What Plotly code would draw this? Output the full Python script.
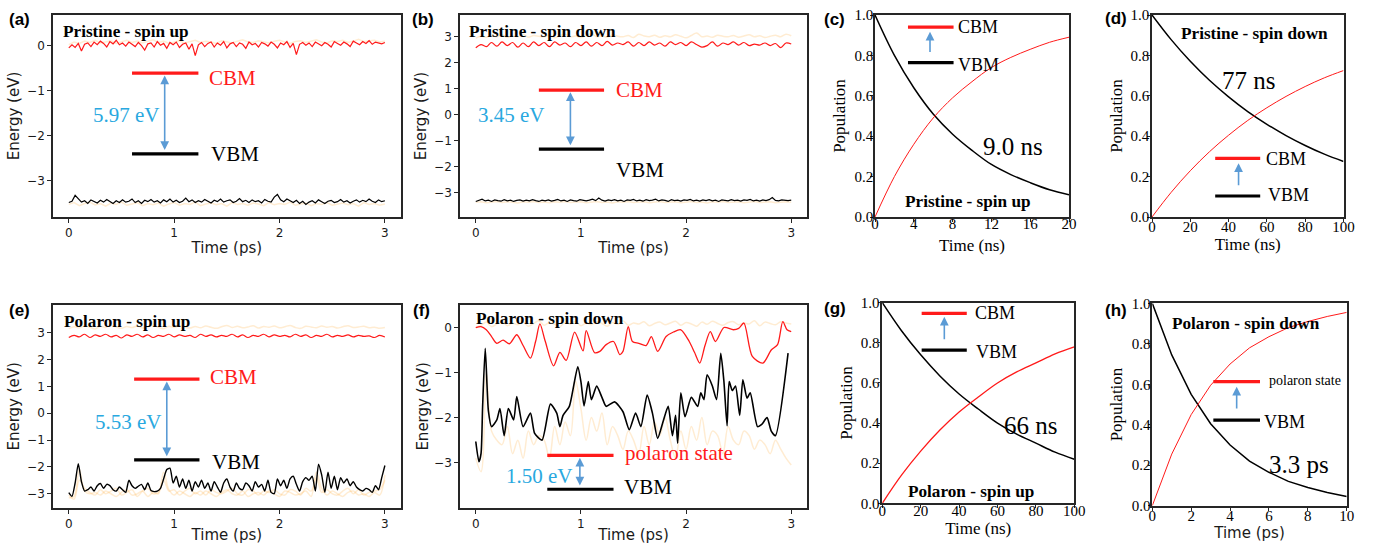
import numpy as np
import plotly.graph_objects as go

# ---------------- data ----------------
# (a) Pristine - spin up : energy trajectories (eV) vs time (ps)
a_red = [-0.05,0.02,-0.04,0.05,-0.12,0.03,0.06,-0.02,0.08,0.02,0.10,0.05,-0.03,0.09,0.04,0.12,0.02,0.06,-0.01,0.08,
         0.03,-0.02,0.07,0.00,-0.10,0.04,0.06,-0.03,0.09,0.01,0.05,-0.06,0.07,0.02,0.08,-0.04,0.03,0.06,-0.08,0.04,
         -0.22,0.02,0.07,-0.02,0.05,0.08,-0.03,0.06,0.01,0.09,-0.05,0.04,0.07,-0.02,0.06,0.03,-0.06,0.08,0.02,0.05,
         -0.03,0.07,0.04,-0.01,0.08,0.03,-0.05,0.06,0.02,0.09,-0.04,0.05,-0.20,0.03,0.07,0.01,0.06,-0.02,0.08,0.04,
         0.00,0.07,0.03,-0.03,0.09,0.05,0.01,0.08,0.04,-0.02,0.10,0.06,0.02,0.09,0.05,0.11,0.03,0.08,0.06,0.04,0.07]
a_black = [-3.48,-3.45,-3.32,-3.40,-3.47,-3.44,-3.50,-3.42,-3.46,-3.49,-3.43,-3.47,-3.41,-3.46,-3.50,-3.44,-3.48,-3.42,-3.47,-3.45,
           -3.40,-3.48,-3.44,-3.50,-3.43,-3.46,-3.41,-3.47,-3.44,-3.49,-3.42,-3.46,-3.40,-3.47,-3.43,-3.48,-3.45,-3.38,-3.46,-3.42,
           -3.48,-3.44,-3.47,-3.41,-3.45,-3.49,-3.43,-3.46,-3.40,-3.47,-3.44,-3.42,-3.48,-3.45,-3.39,-3.46,-3.43,-3.48,-3.42,-3.46,
           -3.44,-3.49,-3.41,-3.45,-3.47,-3.36,-3.30,-3.42,-3.46,-3.40,-3.44,-3.48,-3.43,-3.50,-3.45,-3.52,-3.47,-3.44,-3.49,-3.42,
           -3.46,-3.50,-3.45,-3.43,-3.48,-3.46,-3.41,-3.47,-3.44,-3.49,-3.45,-3.42,-3.47,-3.43,-3.46,-3.40,-3.45,-3.48,-3.42,-3.46,-3.44]
a_orange_top = [0.02,0.08,0.05,0.10,0.07,0.12,0.06,0.09,0.11,0.05,0.08,0.12,0.07,0.10,0.06,0.09,0.13,0.07,0.10,0.05,
                0.08,0.11,0.06,0.09,0.12,0.07,0.10,0.08,0.05,0.11,0.09,0.06,0.10,0.13,0.08,0.07,0.11,0.09,0.06,0.10,
                0.12,0.08,0.05,0.09,0.11,0.07,0.10,0.13,0.08,0.06,0.11,0.09,0.12,0.07,0.10,0.14,0.09,0.11,0.12,0.08,0.10]
a_orange_low = [-3.52,-3.48,-3.55,-3.50,-3.47,-3.53,-3.50,-3.56,-3.49,-3.52,-3.47,-3.54,-3.51,-3.48,-3.55,-3.50,-3.53,-3.49,-3.56,-3.51,
                -3.48,-3.54,-3.50,-3.52,-3.47,-3.55,-3.51,-3.49,-3.53,-3.50,-3.56,-3.48,-3.52,-3.50,-3.54,-3.49,-3.51,-3.55,-3.48,-3.53,
                -3.50,-3.52,-3.47,-3.54,-3.51,-3.49,-3.55,-3.50,-3.52,-3.48,-3.54,-3.51,-3.49,-3.53,-3.50,-3.56,-3.48,-3.52,-3.50,-3.54,-3.51]
a_levels = [-0.61, -2.40]          # CBM, VBM

# (b) Pristine - spin down
b_red = [2.58,2.70,2.62,2.78,2.64,2.80,2.66,2.78,2.60,2.76,2.62,2.80,2.66,2.78,2.62,2.80,2.68,2.76,2.62,2.78,
         2.66,2.80,2.64,2.78,2.66,2.82,2.68,2.76,2.70,2.80,2.64,2.78,2.66,2.80,2.68,2.76,2.64,2.80,2.70,2.78,
         2.66,2.80,2.70,2.60,2.66,2.80,2.64,2.76,2.70,2.80,2.68,2.78,2.66,2.72,2.68,2.76,2.66,2.74,2.58,2.76,2.72]
b_orange_top = [2.95,3.02,2.98,3.06,3.00,3.08,2.97,3.04,3.00,3.10,2.98,3.05,3.02,3.00,3.07,2.96,3.04,3.10,3.00,3.03,
                2.97,3.06,3.12,3.00,3.04,2.98,3.08,3.02,3.00,3.05,2.97,3.10,3.03,3.00,3.06,2.98,3.04,3.00,3.08,3.02,
                2.96,3.05,3.15,3.00,3.03,2.98,3.06,3.02,3.00,3.05,2.98,3.03,3.08,3.00,3.04,2.97,3.02,3.06,3.00,3.10,3.04]
b_black = [-3.35,-3.30,-3.26,-3.33,-3.30,-3.35,-3.29,-3.32,-3.34,-3.28,-3.33,-3.30,-3.35,-3.31,-3.29,-3.34,-3.30,-3.33,-3.28,-3.32,
           -3.35,-3.30,-3.33,-3.29,-3.34,-3.31,-3.27,-3.33,-3.30,-3.35,-3.29,-3.32,-3.34,-3.28,-3.31,-3.33,-3.30,-3.26,-3.32,-3.22,
           -3.30,-3.34,-3.29,-3.32,-3.28,-3.33,-3.30,-3.35,-3.29,-3.31,-3.27,-3.33,-3.30,-3.34,-3.28,-3.32,-3.30,-3.26,-3.33,-3.29,
           -3.31,-3.35,-3.28,-3.32,-3.30,-3.34,-3.29,-3.31,-3.27,-3.33,-3.30,-3.34,-3.29,-3.32,-3.28,-3.33,-3.30,-3.35,-3.29,-3.31,
           -3.33,-3.28,-3.32,-3.30,-3.34,-3.29,-3.31,-3.27,-3.33,-3.30,-3.34,-3.29,-3.32,-3.28,-3.20,-3.31,-3.33,-3.29,-3.30,-3.32,-3.30]
b_orange_low = [-3.38,-3.36,-3.40,-3.37,-3.35,-3.39,-3.36,-3.38,-3.41,-3.36,-3.38,-3.35,-3.39,-3.37,-3.40,-3.36,-3.38,-3.35,-3.39,-3.37,
                -3.36,-3.40,-3.38,-3.35,-3.39,-3.37,-3.41,-3.36,-3.38,-3.35,-3.39,-3.37,-3.36,-3.40,-3.38,-3.35,-3.39,-3.37,-3.36,-3.40,
                -3.38,-3.35,-3.39,-3.37,-3.41,-3.36,-3.38,-3.35,-3.39,-3.37,-3.36,-3.40,-3.38,-3.35,-3.39,-3.37,-3.36,-3.40,-3.38,-3.36,-3.38]
b_levels = [0.94, -1.33]

# (e) Polaron - spin up
e_red = [2.82,2.90,2.84,2.94,2.82,2.92,2.86,2.94,2.84,2.90,2.80,2.92,2.86,2.94,2.84,2.92,2.82,2.90,2.86,2.94,
         2.84,2.92,2.86,2.90,2.82,2.94,2.86,2.92,2.84,2.90,2.86,2.94,2.84,2.92,2.82,2.90,2.86,2.94,2.84,2.92,
         2.86,2.90,2.84,2.94,2.86,2.92,2.82,2.90,2.86,2.94,2.84,2.90,2.86,2.92,2.84,2.90,2.86,2.88,2.82,2.90,2.84]
e_orange_top = [3.15,3.22,3.18,3.26,3.20,3.14,3.24,3.19,3.27,3.21,3.16,3.23,3.19,3.25,3.17,3.22,3.28,3.20,3.15,3.24,
                3.19,3.26,3.21,3.17,3.23,3.18,3.25,3.20,3.16,3.22,3.27,3.19,3.24,3.18,3.21,3.26,3.17,3.23,3.20,3.25,
                3.18,3.22,3.27,3.19,3.16,3.24,3.21,3.18,3.25,3.20,3.23,3.17,3.22,3.26,3.19,3.21,3.24,3.18,3.20,3.16,3.19]
e_black = [-2.96,-3.10,-2.60,-1.88,-2.55,-2.90,-2.85,-2.75,-2.90,-2.70,-2.62,-2.80,-2.65,-2.70,-2.85,-2.90,-2.75,-2.85,-2.95,-2.50,
           -2.70,-2.80,-2.72,-2.65,-2.85,-2.60,-2.88,-2.92,-2.90,-2.80,-2.45,-2.10,-2.05,-2.60,-2.35,-2.75,-2.45,-2.80,-2.50,-2.90,
           -2.55,-2.75,-2.50,-2.80,-2.60,-2.90,-2.55,-2.75,-2.95,-2.60,-2.45,-2.75,-2.90,-2.60,-2.80,-2.85,-2.60,-2.70,-2.90,-2.55,
           -2.75,-2.65,-2.90,-2.50,-2.95,-3.00,-2.45,-2.70,-2.50,-2.80,-2.45,-2.35,-2.65,-2.90,-2.55,-2.40,-2.50,-2.35,-2.90,-1.90,
           -2.30,-2.95,-2.20,-2.80,-2.35,-2.85,-2.40,-2.60,-2.45,-2.70,-2.55,-2.75,-2.85,-2.90,-2.80,-2.85,-2.95,-2.70,-2.85,-2.40,-1.95]
e_orange_low1 = [-3.15,-3.10,-2.10,-2.90,-3.00,-2.95,-3.05,-2.90,-3.00,-3.10,-2.95,-2.85,-3.05,-3.00,-2.90,-3.10,-2.95,-3.00,-2.20,-2.85,
                 -3.05,-2.90,-3.00,-3.10,-2.95,-3.05,-2.90,-3.00,-3.10,-2.95,-2.85,-3.00,-3.05,-2.90,-3.10,-3.00,-2.95,-3.05,-2.90,-3.00,
                 -3.10,-2.90,-2.95,-3.05,-3.00,-2.90,-3.10,-2.20,-2.80,-3.05,-2.90,-3.00,-3.10,-2.95,-2.90,-3.05,-3.00,-3.10,-2.95,-3.05,-2.30]
e_orange_low2 = [-3.05,-3.20,-2.50,-2.80,-2.95,-3.05,-2.85,-3.00,-2.90,-2.80,-3.05,-2.95,-2.85,-3.10,-2.90,-2.80,-3.00,-2.95,-2.50,-2.90,
                 -2.85,-3.05,-2.90,-2.80,-3.00,-2.90,-3.05,-2.85,-2.95,-3.00,-2.90,-2.80,-3.00,-3.05,-2.85,-2.90,-3.05,-2.90,-2.95,-2.85,
                 -3.00,-3.05,-2.85,-2.90,-3.05,-2.80,-2.90,-2.40,-2.95,-2.85,-3.00,-3.05,-2.90,-2.80,-3.00,-2.85,-3.05,-2.95,-2.90,-2.85,-2.50]
e_levels = [1.27, -1.74]

# (f) Polaron - spin down
f_red_t = [0.00,0.05,0.10,0.15,0.20,0.26,0.32,0.39,0.45,0.52,0.57,0.61,0.66,0.74,0.80,0.86,0.94,1.02,1.05,1.13,
           1.18,1.24,1.31,1.37,1.40,1.45,1.49,1.55,1.62,1.67,1.73,1.81,1.88,1.95,2.03,2.08,2.13,2.18,2.23,2.28,
           2.36,2.45,2.50,2.55,2.63,2.73,2.81,2.87,2.92,2.96,3.00]
f_red_e = [0.00,0.02,-0.05,-0.20,-0.35,-0.28,-0.36,-0.16,-0.40,-0.68,-0.30,0.08,-0.30,-0.85,-0.55,-0.73,-0.10,-0.52,-0.07,-0.56,
           -0.53,-0.38,-0.31,-0.60,-0.53,0.02,-0.31,-0.35,-0.40,-0.20,-0.53,-0.20,-0.10,-0.05,-0.31,-0.55,-0.79,-0.40,-0.09,-0.31,
           0.00,-0.05,-0.02,0.10,-0.64,-0.79,-0.50,-0.38,0.13,-0.05,-0.09]
f_black_t = [0.00,0.03,0.05,0.065,0.09,0.12,0.15,0.20,0.23,0.27,0.31,0.36,0.39,0.45,0.52,0.56,0.63,0.71,0.77,0.80,
             0.83,0.89,0.97,1.00,1.03,1.07,1.10,1.15,1.20,1.24,1.32,1.40,1.46,1.52,1.57,1.63,1.68,1.73,1.78,1.83,
             1.87,1.90,1.92,1.95,1.99,2.05,2.11,2.14,2.17,2.20,2.25,2.29,2.33,2.36,2.39,2.41,2.44,2.47,2.51,2.54,
             2.58,2.61,2.68,2.72,2.77,2.81,2.85,2.97]
f_black_e = [-2.53,-2.98,-2.80,-1.76,-0.46,-1.85,-2.20,-2.05,-1.80,-2.40,-1.80,-2.05,-1.53,-2.20,-1.90,-2.35,-2.50,-1.70,-1.90,-2.20,
             -1.95,-1.75,-0.87,-1.20,-1.74,-1.20,-1.60,-1.30,-1.55,-1.75,-1.65,-1.87,-2.27,-1.90,-2.20,-1.50,-1.90,-2.46,-2.10,-1.75,
             -2.40,-1.95,-2.57,-1.45,-1.98,-1.55,-1.75,-1.45,-1.60,-1.05,-1.30,-1.60,-0.57,-1.20,-2.18,-1.20,-1.40,-1.30,-1.95,-1.16,
             -1.57,-1.45,-2.20,-2.15,-2.00,-2.30,-2.40,-0.57]
f_orange_low = [-2.90,-3.20,-1.00,-2.30,-2.50,-2.60,-2.20,-2.80,-2.50,-2.90,-2.30,-2.60,-2.40,-2.50,-2.90,-2.20,-2.60,-2.10,-2.40,-1.20,
                -1.80,-2.50,-2.00,-2.30,-1.90,-2.60,-2.20,-2.40,-2.70,-2.30,-2.50,-2.80,-2.20,-2.60,-2.10,-2.40,-2.00,-2.50,-2.90,-2.30,
                -2.70,-2.20,-2.50,-2.00,-2.60,-2.30,-2.40,-2.80,-2.20,-2.50,-2.60,-2.30,-2.40,-2.70,-2.50,-2.60,-2.80,-2.50,-2.70,-2.90,-3.05]
f_orange_top = [0.00,0.05,0.12,0.02,0.08,0.14,0.04,0.10,0.06,0.13,0.03,0.09,0.15,0.05,0.11,0.07,0.02,0.12,0.08,0.14,
                0.04,0.10,0.06,0.13,0.09,0.03,0.11,0.07,0.15,0.05,0.10,0.08,0.13,0.04,0.09,0.12,0.06,0.10,0.14,0.05,
                0.11,0.08,0.03,0.12,0.07,0.14,0.09,0.05,0.11,0.13,0.06,0.10,0.08,0.15,0.04,0.12,0.09,0.06,0.13,0.10,0.08]
f_levels = [-2.84, -3.59]          # polaron state, VBM

# (c),(d),(g),(h) populations
c_t = [0, 2, 4, 6, 8, 10, 12, 14, 16, 18, 20]
c_vbm = [1.0, 0.80, 0.64, 0.51, 0.41, 0.33, 0.26, 0.21, 0.17, 0.135, 0.11]
c_cbm = [0.0, 0.20, 0.36, 0.49, 0.59, 0.67, 0.74, 0.79, 0.83, 0.865, 0.89]
d_t = [0, 10, 20, 30, 40, 50, 60, 70, 80, 90, 100]
d_vbm = [1.0, 0.878, 0.771, 0.677, 0.595, 0.522, 0.459, 0.403, 0.354, 0.311, 0.275]
d_cbm = [0.0, 0.122, 0.229, 0.323, 0.405, 0.478, 0.541, 0.597, 0.646, 0.689, 0.725]
g_t = [0, 10, 20, 30, 40, 50, 60, 70, 80, 90, 100]
g_vbm = [1.0, 0.86, 0.74, 0.635, 0.545, 0.47, 0.40, 0.345, 0.30, 0.255, 0.22]
g_cbm = [0.0, 0.14, 0.26, 0.365, 0.455, 0.53, 0.60, 0.655, 0.70, 0.745, 0.78]
h_t = [0, 1, 2, 3, 4, 5, 6, 7, 8, 9, 10]
h_vbm = [1.0, 0.745, 0.55, 0.405, 0.30, 0.22, 0.165, 0.12, 0.09, 0.065, 0.045]
h_cbm = [0.0, 0.255, 0.45, 0.595, 0.70, 0.78, 0.835, 0.88, 0.91, 0.935, 0.955]
c_levels = [0.94, 0.764]
d_levels = [0.29, 0.104]
g_levels = [0.947, 0.764]
h_levels = [0.613, 0.423]

# ---------------- styling ----------------
W, H = 1385, 544
SANS = "DejaVu Sans"
SERIF = "Liberation Serif"
RED = "#ff1a1a"
ORANGE = "rgba(255,168,50,0.22)"
ARROW = "#5b9bd5"
BLUE_TXT = "#29a8e0"
FRAME = "#262626"


def grid(vals):
    return np.linspace(0, 3, len(vals))


fig = go.Figure()
layout = dict(template="none", width=W, height=H, autosize=False, margin=dict(l=0, r=0, t=0, b=0, pad=0),
              paper_bgcolor="white", plot_bgcolor="white", showlegend=False)
annotations = []

# panel boxes in pixels (x0, x1, y0, y1)
boxes = {
    1: (53, 400.7, 15, 217), 2: (460, 807, 15, 217), 3: (875, 1069, 15, 217), 4: (1152, 1343.5, 15, 217),
    5: (53, 400.7, 305, 507.7), 6: (460, 807, 305, 507.7), 7: (882.3, 1074.3, 302.7, 503.3), 8: (1152.3, 1346.7, 303.3, 505.7),
}


def add_axes(i, xr, yr, xt, yt, serif, xtitle, ytitle, xtitle_sans=False, ystand=4, xstand=3, xlab_off=0, ylab_off=0):
    x0, x1, y0, y1 = boxes[i]
    tickfont = dict(family=SERIF, size=15, color="black") if serif else dict(family=SANS, size=12, color="#1a1a1a")
    tfont = dict(family=SERIF, size=17, color="black") if serif else dict(family=SANS, size=15, color="#1a1a1a")
    xtfont = dict(family=SANS, size=15, color="#1a1a1a") if xtitle_sans else tfont
    sfx = "" if i == 1 else str(i)
    common = dict(showgrid=False, zeroline=False, showline=True, mirror=True, linecolor=FRAME, linewidth=1.6,
                  ticks="outside", ticklen=3 if serif else 4, tickwidth=1, tickcolor=FRAME, fixedrange=True,
                  automargin=False)
    layout["xaxis" + sfx] = dict(domain=[x0 / W, x1 / W], anchor="y" + sfx, range=xr, tickvals=xt,
                                 tickfont=tickfont, ticklabelstandoff=xlab_off,
                                 title=dict(text=xtitle, font=xtfont, standoff=xstand), **common)
    ydict = dict(domain=[1 - y1 / H, 1 - y0 / H], anchor="x" + sfx, range=yr, tickvals=yt,
                 tickfont=tickfont, ticklabelstandoff=ylab_off,
                 title=dict(text=ytitle, font=tfont, standoff=ystand), **common)
    if serif:
        ydict["tickformat"] = ".1f"
    layout["yaxis" + sfx] = ydict
    return "x" + sfx, "y" + sfx


def line(xa, ya, x, y, color, width, shape="linear", smoothing=1.0):
    fig.add_trace(go.Scatter(x=x, y=y, mode="lines", xaxis=xa, yaxis=ya, hoverinfo="skip",
                             line=dict(color=color, width=width, shape=shape,
                                       smoothing=smoothing if shape == "spline" else None)))


def levels(xa, ya, xs, vals, arrow_x, arrow_from, arrow_to, double=True):
    line(xa, ya, xs, [vals[0], vals[0]], RED, 3.2)
    line(xa, ya, xs, [vals[1], vals[1]], "black", 3.2)
    annotations.append(dict(x=arrow_x, y=arrow_to, ax=arrow_x, ay=arrow_from, xref=xa, yref=ya, axref=xa, ayref=ya,
                            text="", showarrow=True, arrowhead=2, arrowsize=1.1, arrowwidth=1.6, arrowcolor=ARROW,
                            arrowside="end+start" if double else "end", standoff=0, startstandoff=0))


def text(xa, ya, x, y, s, size, color="black", bold=False, xanchor="left", family=SERIF):
    annotations.append(dict(x=x, y=y, xref=xa, yref=ya, text=("<b>%s</b>" % s) if bold else s, showarrow=False,
                            xanchor=xanchor, yanchor="middle", font=dict(family=family, size=size, color=color)))


TITLE = 17.2
LBL = 21
POP_T = [0, 0.2, 0.4, 0.6, 0.8, 1.0]

# ---- (a)
xa, ya = add_axes(1, [-0.15, 3.15], [-3.80, 0.68], [0, 1, 2, 3], [-3, -2, -1, 0], False, "Time (ps)", "Energy (eV)")
line(xa, ya, grid(a_orange_top), a_orange_top, ORANGE, 1.5)
line(xa, ya, grid(a_orange_low), a_orange_low, ORANGE, 1.5)
line(xa, ya, grid(a_red), a_red, RED, 1.2)
line(xa, ya, grid(a_black), a_black, "black", 1.2)
levels(xa, ya, [0.60, 1.23], a_levels, 0.91, -2.35, -0.66)
text(xa, ya, 1.31, -0.72, "CBM", LBL, RED)
text(xa, ya, 1.33, -2.40, "VBM", LBL)
text(xa, ya, 0.55, -1.54, "5.97 eV", LBL, BLUE_TXT, xanchor="center")
text(xa, ya, -0.07, 0.31, "Pristine - spin up", TITLE, bold=True)

# ---- (b)
xa, ya = add_axes(2, [-0.15, 3.15], [-3.95, 3.84], [0, 1, 2, 3], [-3, -2, -1, 0, 1, 2, 3], False, "Time (ps)", "Energy (eV)")
line(xa, ya, grid(b_orange_top), b_orange_top, ORANGE, 1.5, "spline")
line(xa, ya, grid(b_orange_low), b_orange_low, ORANGE, 1.5)
line(xa, ya, grid(b_red), b_red, RED, 1.2, "spline")
line(xa, ya, grid(b_black), b_black, "black", 1.2)
levels(xa, ya, [0.60, 1.22], b_levels, 0.90, -1.24, 0.86)
text(xa, ya, 1.31, 0.96, "CBM", LBL, RED)
text(xa, ya, 1.31, -2.12, "VBM", LBL)
text(xa, ya, 0.34, 0.0, "3.45 eV", LBL, BLUE_TXT, xanchor="center")
text(xa, ya, -0.08, 3.19, "Pristine - spin down", TITLE, bold=True)

# ---- (c)
xa, ya = add_axes(3, [0, 20], [0, 1], [0, 4, 8, 12, 16, 20], POP_T, True, "Time (ns)", "Population",
                  ystand=5, xstand=8, xlab_off=-11, ylab_off=-6)
line(xa, ya, c_t, c_vbm, "black", 1.5, "spline")
line(xa, ya, c_t, c_cbm, RED, 1.0, "spline")
levels(xa, ya, [3.4, 8.1], c_levels, 5.67, 0.81, 0.917, double=False)
text(xa, ya, 8.4, 0.94, "CBM", 18)
text(xa, ya, 8.4, 0.752, "VBM", 18)
text(xa, ya, 10.9, 0.35, "9.0 ns", 25)
text(xa, ya, 2.9, 0.076, "Pristine - spin up", TITLE, bold=True)

# ---- (d)
xa, ya = add_axes(4, [0, 100], [0, 1], [0, 20, 40, 60, 80, 100], POP_T, True, "Time (ns)", "Population",
                  ystand=4, xstand=4, xlab_off=-8, ylab_off=-5)
line(xa, ya, d_t, d_vbm, "black", 1.5, "spline")
line(xa, ya, d_t, d_cbm, RED, 1.0, "spline")
levels(xa, ya, [33, 56.5], d_levels, 45.2, 0.15, 0.266, double=False)
text(xa, ya, 58.7, 0.287, "CBM", 18)
text(xa, ya, 59.3, 0.109, "VBM", 18)
text(xa, ya, 35.5, 0.678, "77 ns", 25)
text(xa, ya, 14.2, 0.909, "Pristine - spin down", TITLE, bold=True)

# ---- (e)
xa, ya = add_axes(5, [-0.15, 3.15], [-3.52, 4.03], [0, 1, 2, 3], [-3, -2, -1, 0, 1, 2, 3], False, "Time (ps)", "Energy (eV)")
line(xa, ya, grid(e_orange_top), e_orange_top, ORANGE, 1.5, "spline")
line(xa, ya, grid(e_orange_low1), e_orange_low1, ORANGE, 1.5, "spline")
line(xa, ya, grid(e_orange_low2), e_orange_low2, ORANGE, 1.5, "spline")
line(xa, ya, grid(e_red), e_red, RED, 1.2, "spline")
line(xa, ya, grid(e_black), e_black, "black", 1.4, "spline", 0.6)
levels(xa, ya, [0.62, 1.24], e_levels, 0.93, -1.66, 1.18)
text(xa, ya, 1.32, 1.34, "CBM", LBL, RED)
text(xa, ya, 1.34, -1.81, "VBM", LBL)
text(xa, ya, 0.57, -0.31, "5.53 eV", LBL, BLUE_TXT, xanchor="center")
text(xa, ya, -0.06, 3.42, "Polaron - spin up", TITLE, bold=True)

# ---- (f)
xa, ya = add_axes(6, [-0.15, 3.15], [-4.0, 0.5], [0, 1, 2, 3], [-3, -2, -1, 0], False, "Time (ps)", "Energy (eV)",
                  ystand=2)
line(xa, ya, grid(f_orange_top), f_orange_top, ORANGE, 1.5, "spline")
line(xa, ya, grid(f_orange_low), f_orange_low, ORANGE, 1.5, "spline")
line(xa, ya, f_red_t, f_red_e, RED, 1.3, "spline", 0.8)
line(xa, ya, f_black_t, f_black_e, "black", 1.6, "spline", 0.6)
levels(xa, ya, [0.68, 1.31], f_levels, 0.99, -3.54, -2.89)
text(xa, ya, 1.40, -2.79, "polaron state", LBL, RED)
text(xa, ya, 1.39, -3.55, "VBM", LBL)
text(xa, ya, 0.61, -3.30, "1.50 eV", LBL, BLUE_TXT, xanchor="center")
text(xa, ya, -0.02, 0.21, "Polaron - spin down", TITLE, bold=True)

# ---- (g)
xa, ya = add_axes(7, [0, 100], [0, 1], [0, 20, 40, 60, 80, 100], POP_T, True, "Time (ns)", "Population",
                  ystand=4, xstand=1, xlab_off=-10, ylab_off=-5)
line(xa, ya, g_t, g_vbm, "black", 1.5, "spline")
line(xa, ya, g_t, g_cbm, RED, 1.3, "spline")
levels(xa, ya, [20.5, 44], g_levels, 32.3, 0.81, 0.93, double=False)
text(xa, ya, 47.3, 0.947, "CBM", 18)
text(xa, ya, 47.8, 0.756, "VBM", 18)
text(xa, ya, 62.5, 0.387, "66 ns", 25)
text(xa, ya, 12.3, 0.058, "Polaron - spin up", TITLE, bold=True)

# ---- (h)
xa, ya = add_axes(8, [0, 10], [0, 1], [0, 2, 4, 6, 8, 10], POP_T, True, "Time (ps)", "Population",
                  xtitle_sans=True, ystand=5, xstand=2, xlab_off=-8, ylab_off=-6)
line(xa, ya, h_t, h_vbm, "black", 1.5)
line(xa, ya, h_t, h_cbm, RED, 1.0)
levels(xa, ya, [3.14, 5.54], h_levels, 4.34, 0.473, 0.588, double=False)
text(xa, ya, 5.88, 0.621, "polaron state", 14)
text(xa, ya, 5.65, 0.415, "VBM", 18)
text(xa, ya, 5.9, 0.206, "3.3 ps", 25)
text(xa, ya, 0.9, 0.90, "Polaron - spin down", TITLE, bold=True)

# ---- panel letters
for lab, px, py in [("(a)", 19.5, 20), ("(b)", 422.5, 20), ("(c)", 834.5, 20), ("(d)", 1116, 18.5),
                    ("(e)", 19.5, 310), ("(f)", 421.5, 310), ("(g)", 834.5, 308.5), ("(h)", 1116, 310)]:
    annotations.append(dict(x=px / W, y=1 - py / H, xref="paper", yref="paper", text="<b>%s</b>" % lab,
                            showarrow=False, xanchor="center", yanchor="middle",
                            font=dict(family="Liberation Sans", size=17, color="black")))

layout["annotations"] = annotations
fig.update_layout(**layout)
fig.write_html("out.html", config={"displayModeBar": False},
               post_script="document.body.style.margin='0px';document.body.style.overflow='hidden';")
